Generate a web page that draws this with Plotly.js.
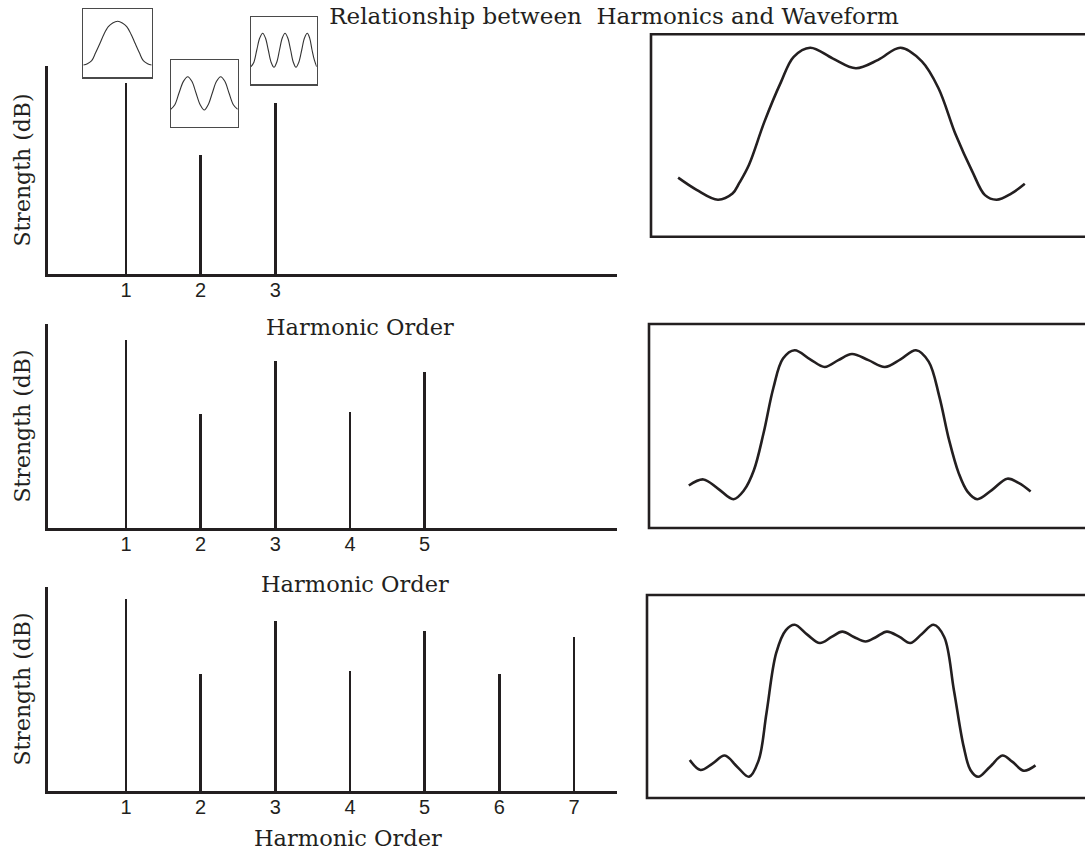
<!DOCTYPE html>
<html>
<head>
<meta charset="utf-8">
<script src="https://cdn.plot.ly/plotly-3.0.1.min.js"></script>
<style>
  html, body { margin: 0; padding: 0; background: #ffffff; }
  #chart { width: 1085px; height: 853px; }
</style>
</head>
<body>
<div id="chart"></div>
<script>
// ---------- data ----------
const chartTitle = "Relationship between\u00a0 Harmonics and Waveform";
const xLabel = "Harmonic Order";
const yLabel = "Strength (dB)";

// spectra (strength on a 0-100 scale of the axis height)
const harmonicsA = [1, 2, 3];
const strengthA  = [92, 57, 82];
const harmonicsB = [1, 2, 3, 4, 5];
const strengthB  = [92, 56, 82, 57, 76.5];
const harmonicsC = [1, 2, 3, 4, 5, 6, 7];
const strengthC  = [94, 57.4, 83.3, 58.8, 78.4, 57.4, 75.5];

// resulting waveforms (time t, amplitude a)
const waveA_t = [-1.83,-1.64,-1.42,-1.27,-1.20,-1.10,-0.94,-0.77,-0.64,-0.47,-0.24,0.00,0.23,0.46,0.68,0.85,1.03,1.20,1.33,1.45,1.60,1.74];
const waveA_a = [-0.71,-0.87,-1.00,-0.92,-0.78,-0.54,0.03,0.55,0.88,1.00,0.86,0.73,0.84,1.00,0.82,0.47,-0.15,-0.63,-0.94,-1.00,-0.92,-0.79];

const waveB_t = [-1.72,-1.57,-1.42,-1.26,-1.15,-1.05,-0.95,-0.85,-0.75,-0.63,-0.47,-0.32,-0.18,-0.04,0.13,0.30,0.46,0.62,0.75,0.86,0.96,1.06,1.15,1.25,1.40,1.56,1.68,1.80];
const waveB_a = [-0.80,-0.72,-0.84,-0.98,-0.86,-0.60,-0.11,0.48,0.87,0.98,0.86,0.76,0.85,0.93,0.85,0.76,0.86,0.98,0.83,0.37,-0.20,-0.64,-0.88,-0.98,-0.86,-0.71,-0.77,-0.88];

const waveC_t = [-1.71,-1.60,-1.48,-1.35,-1.22,-1.10,-1.00,-0.92,-0.82,-0.72,-0.63,-0.50,-0.37,-0.25,-0.14,-0.02,0.10,0.21,0.32,0.45,0.56,0.68,0.80,0.91,1.01,1.11,1.18,1.26,1.38,1.51,1.61,1.73,1.85];
const waveC_a = [-0.78,-0.91,-0.83,-0.72,-0.87,-1.00,-0.78,-0.16,0.63,0.93,1.00,0.87,0.76,0.84,0.91,0.84,0.78,0.84,0.91,0.84,0.76,0.88,1.00,0.84,0.14,-0.60,-0.91,-1.00,-0.87,-0.72,-0.80,-0.92,-0.85];

// small inset sinusoids (u across the box 0-1, v up the box 0-1)
const inset1_u = [0, 0.06, 0.123, 0.18, 0.244, 0.30, 0.366, 0.43, 0.503, 0.57, 0.635, 0.70, 0.757, 0.82, 0.877, 0.94, 1];
const inset1_v = [0.181, 0.20, 0.244, 0.36, 0.5, 0.63, 0.744, 0.80, 0.824, 0.80, 0.744, 0.63, 0.5, 0.36, 0.244, 0.20, 0.181];
const inset2_u = [0, 0.062, 0.124, 0.19, 0.254, 0.316, 0.378, 0.44, 0.502, 0.56, 0.621, 0.684, 0.746, 0.808, 0.870, 0.935, 1];
const inset2_v = [0.261, 0.33, 0.505, 0.68, 0.75, 0.68, 0.505, 0.33, 0.25, 0.33, 0.505, 0.68, 0.75, 0.68, 0.505, 0.33, 0.261];
const inset3_u = [0, 0.044, 0.088, 0.133, 0.178, 0.22, 0.263, 0.306, 0.350, 0.392, 0.434, 0.476, 0.518, 0.56, 0.603, 0.644, 0.685, 0.728, 0.772, 0.814, 0.857, 0.893, 0.929, 0.965, 1];
const inset3_v = [0.263, 0.33, 0.512, 0.69, 0.761, 0.69, 0.512, 0.33, 0.254, 0.33, 0.512, 0.69, 0.761, 0.69, 0.512, 0.33, 0.254, 0.33, 0.512, 0.69, 0.761, 0.69, 0.512, 0.36, 0.263];

// ---------- layout helpers ----------
const W = 1085, H = 853;
const fx = p => p / W;
const fy = p => 1 - p / H;
const INK = '#231f20';
const SERIF = 'DejaVu Serif, serif';
const SANS = 'Liberation Sans, Arial, sans-serif';

const traces = [];
function spikes(xs, ys, n) {
  traces.push({type: 'bar', x: xs, y: ys, width: 0.036, xaxis: 'x' + n, yaxis: 'y' + n,
    marker: {color: INK, line: {width: 0}}, hoverinfo: 'x+y', showlegend: false});
}
function wave(ts, as, n, w, c) {
  traces.push({type: 'scatter', mode: 'lines', x: ts, y: as, xaxis: 'x' + n, yaxis: 'y' + n,
    line: {color: c, width: w, shape: 'spline', smoothing: 1}, hoverinfo: 'skip', showlegend: false});
}
spikes(harmonicsA, strengthA, '');
spikes(harmonicsB, strengthB, 2);
spikes(harmonicsC, strengthC, 3);
wave(waveA_t, waveA_a, 4, 2.6, INK);
wave(waveB_t, waveB_a, 5, 2.6, INK);
wave(waveC_t, waveC_a, 6, 2.6, INK);
wave(inset1_u, inset1_v, 7, 1.1, '#333333');
wave(inset2_u, inset2_v, 8, 1.1, '#333333');
wave(inset3_u, inset3_v, 9, 1.1, '#333333');

const layout = {
  width: W, height: H,
  margin: {l: 0, r: 0, t: 0, b: 0, pad: 0},
  paper_bgcolor: '#ffffff', plot_bgcolor: 'rgba(0,0,0,0)',
  showlegend: false, bargap: 0,
  font: {family: SERIF, color: INK},
  title: {text: chartTitle, font: {family: SERIF, size: 23, color: INK},
          x: fx(614), xref: 'paper', xanchor: 'center', y: 1 - 16 / H, yref: 'container', yanchor: 'middle'},
  annotations: [],
  shapes: []
};

// spectrum panels
const specY = [[66, 274], [324, 528], [587, 791]];
const specTicks = [harmonicsA, harmonicsB, harmonicsC];
const xTitleCenter = [[360, 327], [355, 584], [348, 838]];
specY.forEach((d, i) => {
  const k = i === 0 ? '' : String(i + 1);
  layout['xaxis' + k] = {
    domain: [fx(48), fx(617)], range: [-0.045, 7.576], anchor: 'y' + k,
    showline: true, linewidth: 3, linecolor: INK, showgrid: false, zeroline: false,
    ticks: '', tickvals: specTicks[i], ticktext: specTicks[i].map(String), ticklabelstandoff: -4,
    tickfont: {family: SANS, size: 20, color: INK}, fixedrange: true
  };
  layout['yaxis' + k] = {
    domain: [fy(d[1]), fy(d[0])], range: [0, 100], anchor: 'x' + k,
    showline: true, linewidth: 3, linecolor: INK, showgrid: false, zeroline: false,
    ticks: '', showticklabels: false, fixedrange: true,
    title: {text: yLabel, standoff: 9, font: {family: SERIF, size: 22, color: INK}}
  };
  layout.annotations.push({text: xLabel, xref: 'paper', yref: 'paper',
    x: fx(xTitleCenter[i][0]), y: fy(xTitleCenter[i][1]), xanchor: 'center', yanchor: 'middle',
    showarrow: false, font: {family: SERIF, size: 22.5, color: INK}});
});

// waveform panels (boxes run off the right edge)
const waveBox = [[651, 34.3, 236.7, [-1.487, 1.176]], [649, 324, 528, [-1.359, 1.325]], [647, 595, 798, [-1.279, 1.392]]];
waveBox.forEach((b, i) => {
  const n = i + 4;
  layout['xaxis' + n] = {domain: [fx(649), 1], range: [-2.13, 2.36], anchor: 'y' + n,
    visible: false, fixedrange: true};
  layout['yaxis' + n] = {domain: [fy(b[2]), fy(b[1])], range: b[3], anchor: 'x' + n,
    visible: false, fixedrange: true};
  layout.shapes.push({type: 'rect', xref: 'paper', yref: 'paper',
    x0: fx(b[0]), x1: fx(1100), y0: fy(b[2]), y1: fy(b[1]),
    line: {color: INK, width: 2.6}, fillcolor: 'rgba(0,0,0,0)'});
});

// small inset boxes above the first spectrum
const insetBox = [[83.3, 151.7, 9.3, 77.3], [170.7, 237.7, 60, 126.7], [251, 316.7, 17.3, 84.3]];
insetBox.forEach((b, i) => {
  const n = i + 7;
  const ax = {showline: true, mirror: true, linewidth: 1.2, linecolor: '#4a4a4a',
    showgrid: false, zeroline: false, ticks: '', showticklabels: false, fixedrange: true};
  layout['xaxis' + n] = Object.assign({domain: [fx(b[0]), fx(b[1])], range: [0, 1], anchor: 'y' + n}, ax);
  layout['yaxis' + n] = Object.assign({domain: [fy(b[3]), fy(b[2])], range: [0, 1], anchor: 'x' + n}, ax);
});

Plotly.newPlot('chart', traces, layout, {displayModeBar: false, staticPlot: true});
</script>
</body>
</html>
